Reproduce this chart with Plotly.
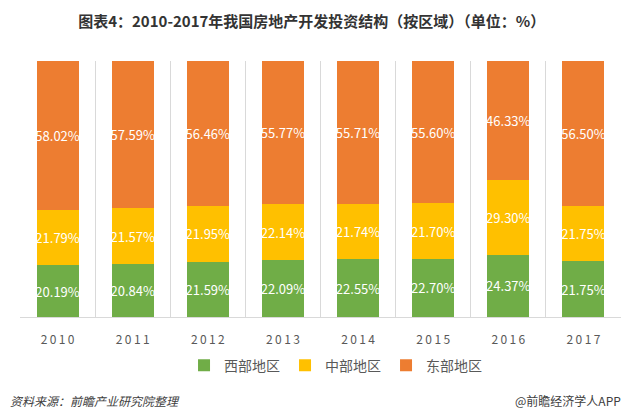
import plotly.graph_objects as go

years = ["2010", "2011", "2012", "2013", "2014", "2015", "2016", "2017"]
tick_labels = ["2\u20090\u20091\u20090", "2\u20090\u20091\u20091", "2\u20090\u20091\u20092", "2\u20090\u20091\u20093",
               "2\u20090\u20091\u20094", "2\u20090\u20091\u20095", "2\u20090\u20091\u20096", "2\u20090\u20091\u20097"]
west = [20.19, 20.84, 21.59, 22.09, 22.55, 22.70, 24.37, 21.75]
central = [21.79, 21.57, 21.95, 22.14, 21.74, 21.70, 29.30, 21.75]
east = [58.02, 57.59, 56.46, 55.77, 55.71, 55.60, 46.33, 56.50]

series = [
    ("西部地区", west, "#70AD47"),
    ("中部地区", central, "#FFC000"),
    ("东部地区", east, "#ED7D31"),
]

FONT = "Noto Sans CJK SC, Microsoft YaHei, sans-serif"

fig = go.Figure()
for name, vals, color in series:
    fig.add_trace(go.Bar(
        x=years, y=vals, name=name,
        marker=dict(color=color, line=dict(width=0)),
        width=0.56,
        texttemplate="%{y:.2f}%",
        textposition="inside",
        insidetextanchor="middle",
        constraintext="none",
        textangle=0,
        textfont=dict(color="white", size=13, family=FONT),
        hoverinfo="skip",
    ))

fig.update_layout(
    barmode="stack",
    width=631, height=417,
    margin=dict(l=20, r=10, t=61, b=100),
    paper_bgcolor="white", plot_bgcolor="white",
    font=dict(family=FONT, color="#595959"),
    title=dict(
        text="<b>图表4：2010-2017年我国房地产开发投资结构（按区域）（单位：%）</b>",
        x=0.494, xanchor="center", y=0.947, yanchor="middle",
        font=dict(size=15, color="#333333", family=FONT),
    ),
    showlegend=True,
    legend=dict(
        orientation="h", x=0.525, xanchor="center", y=-0.19, yanchor="middle",
        font=dict(size=14, color="#595959", family=FONT),
        traceorder="normal", itemwidth=30,
    ),
    xaxis=dict(
        type="category", tickson="boundaries",
        tickvals=years, ticktext=tick_labels,
        showgrid=True, gridcolor="#D9D9D9", gridwidth=1,
        showline=True, linecolor="#D9D9D9", linewidth=1,
        ticks="", tickfont=dict(size=12, color="#595959", family=FONT),
        ticklabelstandoff=12,
        range=[-0.5, 7.5], fixedrange=True,
    ),
    yaxis=dict(range=[0, 100], visible=False, showgrid=False, fixedrange=True),
    annotations=[
        dict(text="<i>资料来源：前瞻产业研究院整理</i>", xref="paper", yref="paper",
             x=-0.02, y=-0.328, xanchor="left", yanchor="middle", showarrow=False,
             font=dict(size=12, color="#404040", family=FONT)),
        dict(text="@前瞻经济学人APP", xref="paper", yref="paper",
             x=1.003, y=-0.328, xanchor="right", yanchor="middle", showarrow=False,
             font=dict(size=12, color="#404040", family=FONT)),
    ],
)

fig.write_html("out.html")
